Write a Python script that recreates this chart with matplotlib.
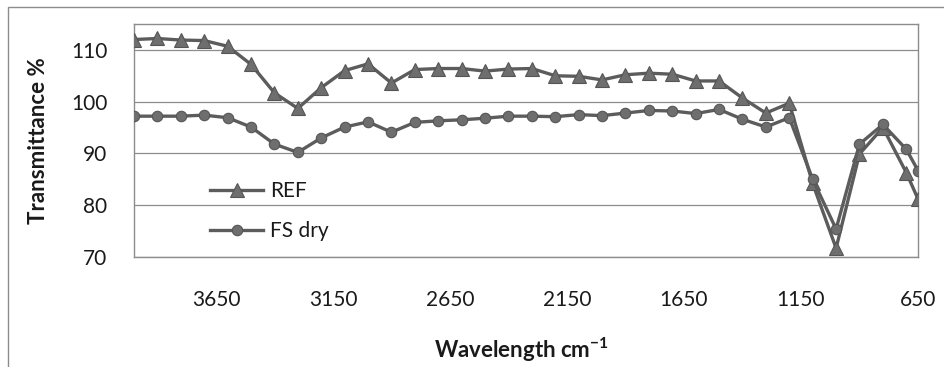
import matplotlib
matplotlib.use("Agg")
import matplotlib.pyplot as plt
from matplotlib.patches import Rectangle

# ---- data -------------------------------------------------------------
wavenumber = [4000, 3900, 3800, 3700, 3600, 3500, 3400, 3300, 3200, 3100,
              3000, 2900, 2800, 2700, 2600, 2500, 2400, 2300, 2200, 2100,
              2000, 1900, 1800, 1700, 1600, 1500, 1400, 1300, 1200, 1100,
              1000, 900, 800, 700, 650]
ref = [112.0, 112.2, 111.9, 111.8, 110.7, 107.2, 101.7, 98.7, 102.7, 106.0,
       107.3, 103.6, 106.2, 106.4, 106.4, 105.9, 106.3, 106.4, 105.0, 104.9,
       104.2, 105.2, 105.5, 105.3, 104.0, 104.0, 100.7, 97.8, 99.7, 84.2,
       71.7, 89.9, 95.0, 86.3, 81.2]
fs_dry = [97.2, 97.2, 97.2, 97.4, 96.9, 95.1, 91.8, 90.2, 93.0, 95.1,
          96.1, 94.1, 96.0, 96.3, 96.5, 96.8, 97.2, 97.2, 97.1, 97.5,
          97.3, 97.8, 98.3, 98.2, 97.7, 98.5, 96.6, 95.1, 96.9, 85.0,
          75.4, 91.8, 95.6, 90.8, 86.7]
series_names = ["REF", "FS dry"]
x_ticks = [3650, 3150, 2650, 2150, 1650, 1150, 650]
y_ticks = [70, 80, 90, 100, 110]

# ---- style ------------------------------------------------------------
plt.rcParams['font.family'] = ['Lato', 'DejaVu Sans']
plt.rcParams['mathtext.fontset'] = 'custom'
plt.rcParams['mathtext.rm'] = 'Lato'
plt.rcParams['mathtext.bf'] = 'Lato:bold'

W, H = 944, 367
fig = plt.figure(figsize=(W / 100, H / 100), dpi=100)
fig.patch.set_facecolor('white')

# outer chart-area border (left and top visible)
fig.patches.append(Rectangle((8 / W, -0.2), 1.5, 1.2 - 7 / H,
                             transform=fig.transFigure, fill=False,
                             edgecolor='#8c8c8c', linewidth=1.0))

left, right, top, bottom = 134 / W, 918 / W, 1 - 24 / H, 1 - 257 / H
ax = fig.add_axes([left, bottom, right - left, top - bottom])

line_col = '#5c5c5c'
mk_face = '#6e6e6e'
ax.plot(wavenumber, ref, color=line_col, lw=2.4, marker='^', markersize=9.5,
        markerfacecolor=mk_face, markeredgecolor='#555555', markeredgewidth=0.8,
        label=series_names[0], zorder=3)
ax.plot(wavenumber, fs_dry, color=line_col, lw=2.4, marker='o', markersize=7.5,
        markerfacecolor=mk_face, markeredgecolor='#555555', markeredgewidth=0.8,
        label=series_names[1], zorder=3)

ax.set_xlim(4000, 650)
ax.set_ylim(70, 115)
ax.set_xticks(x_ticks)
ax.set_xticklabels([str(v) for v in x_ticks])
ax.set_yticks(y_ticks)
ax.set_yticklabels([str(v) for v in y_ticks])
ax.tick_params(axis='both', length=0, labelsize=15, colors='#1a1a1a')
ax.tick_params(axis='y', pad=19)
ax.tick_params(axis='x', pad=24)

ax.grid(axis='y', color='#8c8c8c', linewidth=0.9)
ax.set_axisbelow(True)
for s in ax.spines.values():
    s.set_color('#8c8c8c')
    s.set_linewidth(1.0)

ax.set_ylabel('Transmittance %', fontsize=16, fontweight='bold',
              color='#1a1a1a', labelpad=16)
fig.text(521 / W, 1 - 358 / H, r'Wavelength cm$^{\mathbf{-1}}$', fontsize=16,
         fontweight='bold', color='#1a1a1a', ha='center', va='baseline')

leg = ax.legend(loc='upper left', bbox_to_anchor=(210 / W, 1 - 181 / H),
                bbox_transform=fig.transFigure, frameon=False, fontsize=15,
                handlelength=2.55, handletextpad=0.35, labelspacing=0.95,
                borderpad=0, borderaxespad=0)
for t in leg.get_texts():
    t.set_color('#1a1a1a')

fig.savefig('out.png', dpi=100)
